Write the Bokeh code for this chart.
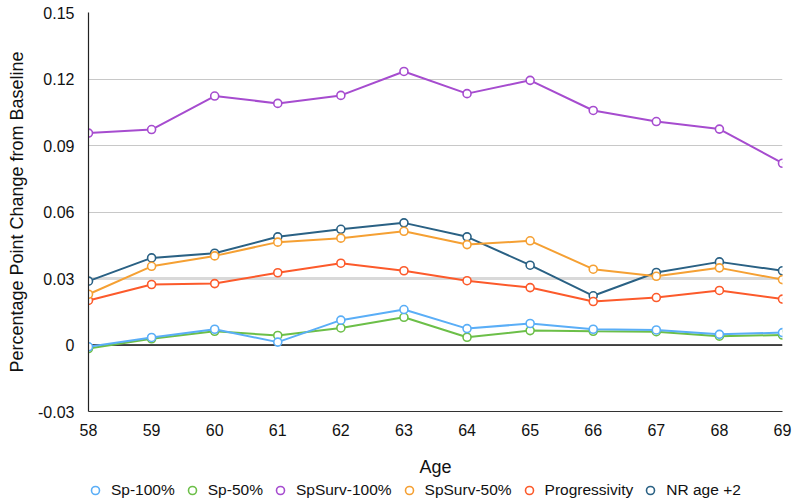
from bokeh.plotting import figure
from bokeh.layouts import column
from bokeh.models import Range1d, FixedTicker, NumeralTickFormatter, Span, Legend, LegendItem
from bokeh.embed import file_html
from bokeh.resources import INLINE

ages = [58, 59, 60, 61, 62, 63, 64, 65, 66, 67, 68, 69]
y_ticks = [-0.03, 0, 0.03, 0.06, 0.09, 0.12, 0.15]

series_names = ["Sp-100%", "Sp-50%", "SpSurv-100%", "SpSurv-50%", "Progressivity", "NR age +2"]
sp100 = [-0.0008, 0.0034, 0.0071, 0.0013, 0.0112, 0.0160, 0.0074, 0.0097, 0.0071, 0.0068, 0.0048, 0.0056]
sp50 = [-0.0016, 0.0028, 0.0062, 0.0043, 0.0077, 0.0125, 0.0035, 0.0065, 0.0062, 0.0060, 0.0040, 0.0045]
spsurv100 = [0.0956, 0.0972, 0.1123, 0.1090, 0.1126, 0.1234, 0.1134, 0.1194, 0.1058, 0.1008, 0.0974, 0.0820]
spsurv50 = [0.0229, 0.0355, 0.0402, 0.0464, 0.0482, 0.0513, 0.0453, 0.0470, 0.0342, 0.0310, 0.0348, 0.0295]
progressivity = [0.0201, 0.0273, 0.0277, 0.0326, 0.0369, 0.0335, 0.0290, 0.0259, 0.0196, 0.0214, 0.0246, 0.0207]
nr_age2 = [0.0288, 0.0393, 0.0414, 0.0488, 0.0522, 0.0551, 0.0488, 0.0360, 0.0222, 0.0327, 0.0375, 0.0335]
colors = ["#5aaef7", "#6cbf48", "#a64ccf", "#f5a033", "#fc5a2b", "#2a6184"]
all_series = [sp100, sp50, spsurv100, spsurv50, progressivity, nr_age2]

FONT = "Liberation Sans"

p = figure(width=793, height=480, output_backend="svg", toolbar_location=None,
           x_range=Range1d(58, 69), y_range=Range1d(-0.03, 0.15),
           min_border_left=88, min_border_right=11, min_border_top=12, min_border_bottom=69)
p.outline_line_color = None
p.background_fill_color = "white"
p.border_fill_color = "white"

# axes
p.xaxis.ticker = FixedTicker(ticks=ages)
p.yaxis.ticker = FixedTicker(ticks=y_ticks)
p.yaxis.formatter = NumeralTickFormatter(format="0.[00]")
for ax in (p.xaxis[0], p.yaxis[0]):
    ax.major_tick_out = 0
    ax.major_tick_in = 0
    ax.minor_tick_out = 0
    ax.minor_tick_in = 0
    ax.major_label_text_font = FONT
    ax.major_label_text_font_size = "16px"
    ax.major_label_text_color = "#111111"
    ax.axis_label_text_font = FONT
    ax.axis_label_text_font_size = "18px"
    ax.axis_label_text_font_style = "normal"
    ax.axis_label_text_color = "#111111"
p.xaxis.axis_label = "Age"
p.yaxis.axis_label = "Percentage Point Change from Baseline"
p.xaxis.major_label_standoff = 12
p.xaxis.axis_label_standoff = 18
p.yaxis.major_label_standoff = 14
p.yaxis.axis_label_standoff = 8
p.yaxis.axis_line_color = "#222222"
p.yaxis.axis_line_width = 1.2
p.xaxis.axis_line_color = "#333333"
p.xaxis.axis_line_width = 1

# grid
p.xgrid.visible = False
p.ygrid.ticker = FixedTicker(ticks=y_ticks)
p.ygrid.grid_line_color = "#c8c8c8"
p.ygrid.grid_line_width = 1

p.add_layout(Span(location=0.03, dimension="width", line_color="#d9d9d9", line_width=3, level="underlay"))
p.add_layout(Span(location=0, dimension="width", line_color="#111111", line_width=1.5, level="underlay"))

for name, vals, col in reversed(list(zip(series_names, all_series, colors))):
    p.line(ages, vals, line_color=col, line_width=2)
    p.scatter(ages, vals, size=8, marker="circle", fill_color="white", line_color=col, line_width=1.6)

# legend strip below the chart (its frame is aligned with the chart's frame)
lg = figure(width=793, height=20, output_backend="svg", toolbar_location=None,
            x_range=Range1d(0, 1), y_range=Range1d(0, 1),
            x_axis_type=None, y_axis_type=None,
            min_border_left=0, min_border_right=0, min_border_top=0, min_border_bottom=0)
lg.outline_line_color = None
lg.xgrid.visible = False
lg.ygrid.visible = False
items = []
for name, col in zip(series_names, colors):
    # off-range placeholder renderer, only used to draw the legend swatch
    r = lg.scatter(x=[-5], y=[-5], size=8, marker="circle", fill_color="white", line_color=col, line_width=1.6)
    items.append(LegendItem(label=name, renderers=[r]))
legend = Legend(items=items, orientation="horizontal", location=(-3, 0),
                glyph_width=20, glyph_height=20, label_standoff=6, spacing=7,
                padding=0, margin=0, border_line_color=None, background_fill_alpha=0,
                label_text_font=FONT, label_text_font_size="15.5px", label_text_color="#111111")
lg.add_layout(legend, "center")

layout = column(p, lg, spacing=0)
open("out.html", "w").write(file_html(layout, INLINE))
